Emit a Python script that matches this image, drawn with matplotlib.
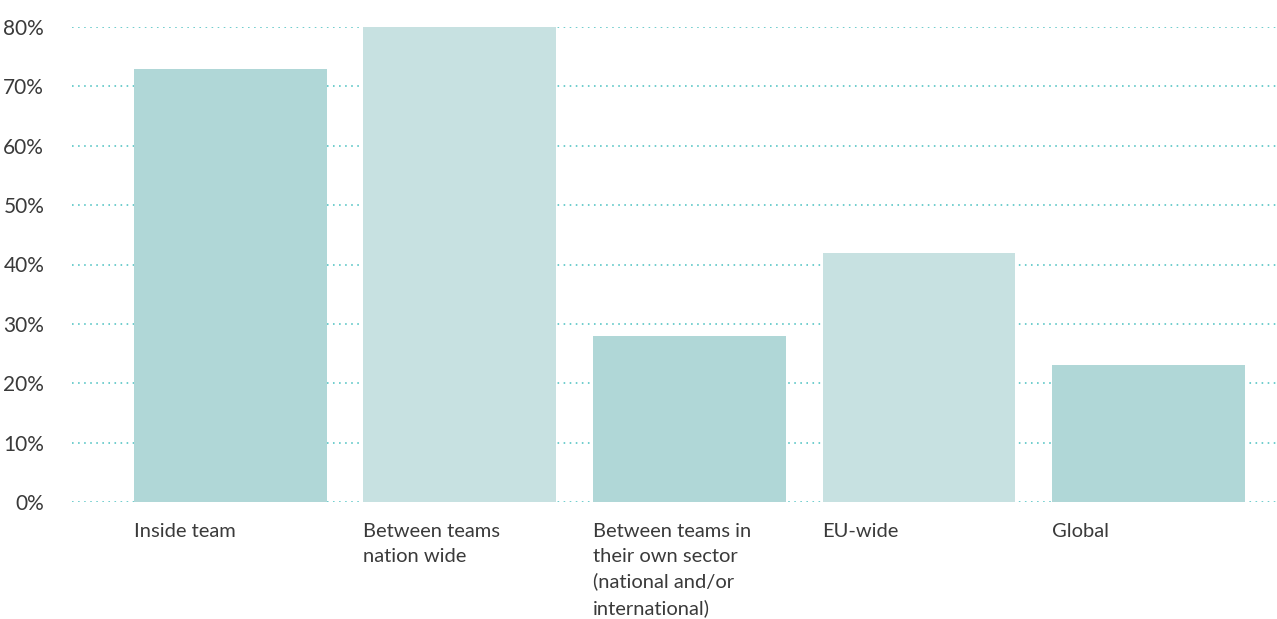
import numpy as np
import matplotlib
matplotlib.use("Agg")
import matplotlib.pyplot as plt

categories = [
    "Inside team",
    "Between teams\nnation wide",
    "Between teams in\ntheir own sector\n(national and/or\ninternational)",
    "EU-wide",
    "Global",
]
values = [73, 80, 28, 42, 23]
bar_colors = ["#b0d7d7", "#c7e1e1", "#b0d7d7", "#c7e1e1", "#b0d7d7"]
y_ticks = [0, 10, 20, 30, 40, 50, 60, 70, 80]

plt.rcParams["font.family"] = ["Lato", "DejaVu Sans"]

fig = plt.figure(figsize=(12.77, 6.19), dpi=100)
ax = fig.add_axes([72 / 1277, 1 - 502 / 619, 1 - 72 / 1277, (502 - 27) / 619])

x = np.arange(len(categories))
width = 0.84
ax.bar(x, values, width=width, color=bar_colors, zorder=2)

# dotted horizontal grid
for t in y_ticks:
    ax.axhline(t, color="#4fc2c2", linestyle=(0, (1, 2.8)), linewidth=1.15, zorder=1)

ax.set_ylim(0, 80)
ax.set_xlim(-0.69, 4.56)
ax.set_yticks(y_ticks)
ax.set_yticklabels([f"{t}%" for t in y_ticks], fontsize=15, color="#3a3a3a")

# category labels left-aligned with bar edges
ax.set_xticks(x - width / 2)
ax.set_xticklabels(categories, ha="left", va="top", fontsize=14.5, color="#3a3a3a",
                   linespacing=1.55)

ax.tick_params(axis="both", length=0)
ax.tick_params(axis="y", pad=20)
ax.tick_params(axis="x", pad=15)
for s in ax.spines.values():
    s.set_visible(False)

fig.savefig("out.png", dpi=100)
